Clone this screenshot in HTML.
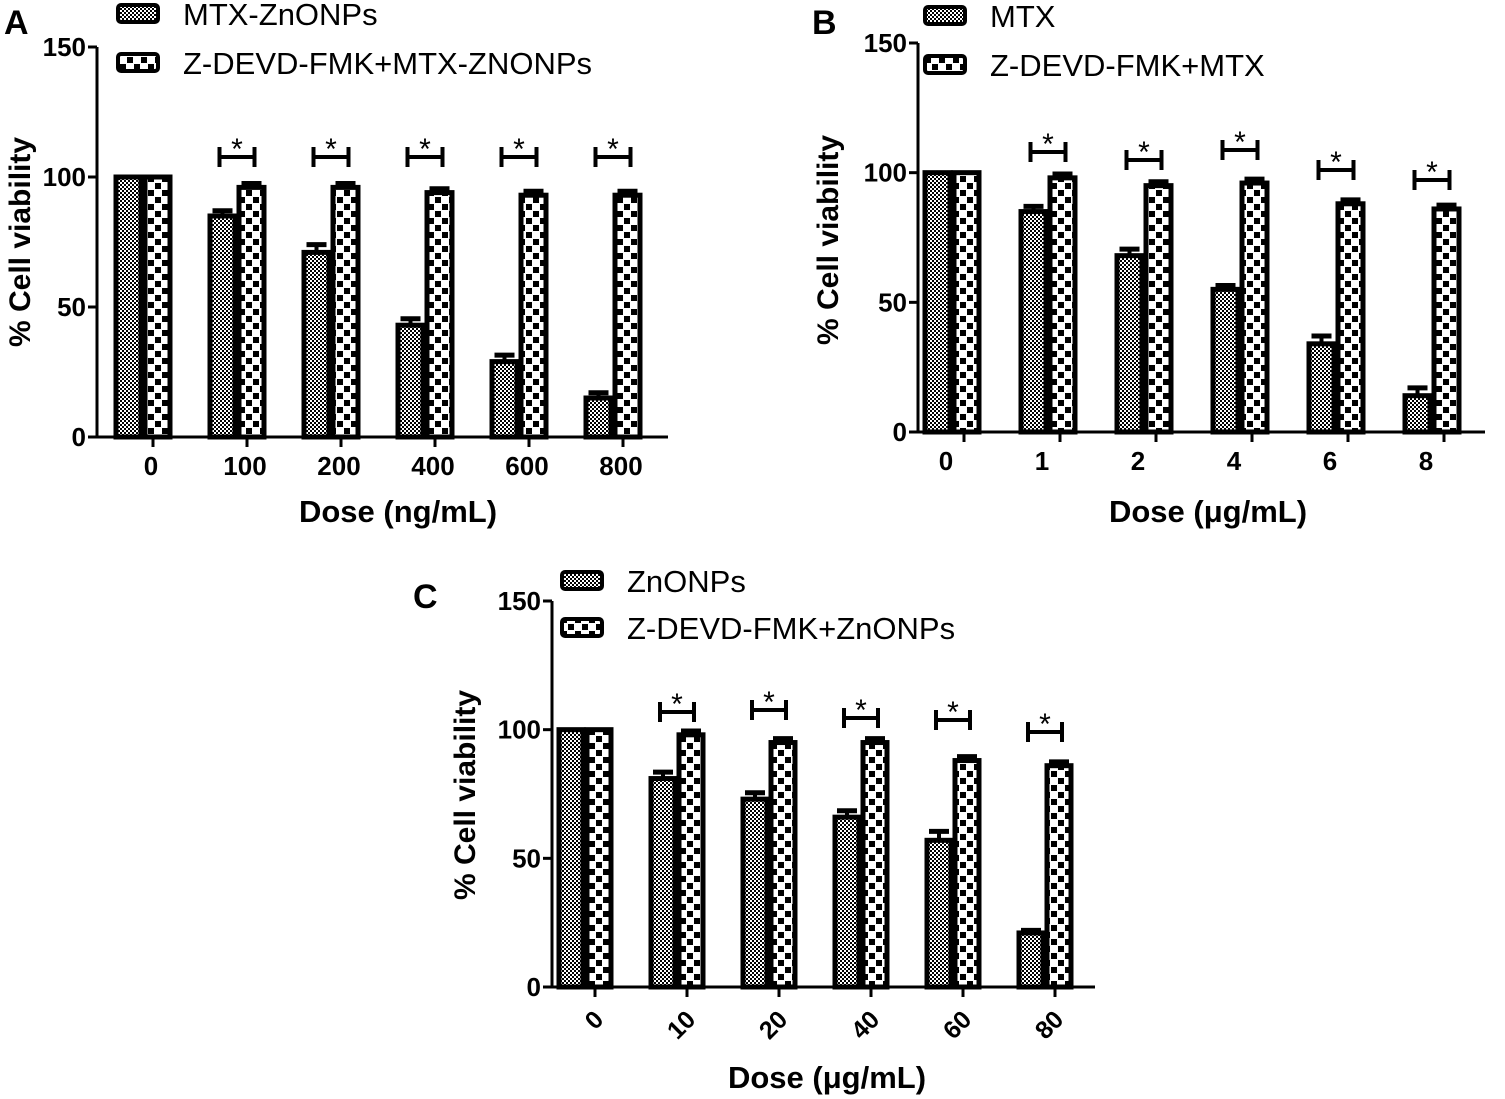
<!DOCTYPE html>
<html><head><meta charset="utf-8"><style>
body{margin:0;background:#fff;}
svg{display:block;font-family:"Liberation Sans",Arial,sans-serif;}
</style></head><body>
<svg id="s" width="1505" height="1099" viewBox="0 0 1505 1099" xmlns="http://www.w3.org/2000/svg">
<defs>
<pattern id="p1" width="4" height="4" patternUnits="userSpaceOnUse"><rect width="4" height="4" fill="#fff"/><rect width="2" height="2" fill="#000"/><rect x="2" y="2" width="2" height="2" fill="#000"/></pattern>
<pattern id="p2" width="14" height="14" patternUnits="userSpaceOnUse"><rect width="14" height="14" fill="#fff"/><rect x="1" y="1" width="6" height="6" fill="#000"/><rect x="8" y="8" width="6" height="6" fill="#000"/></pattern>
</defs>
<g id="g"></g>
</svg>
<script>
var g=document.getElementById('g');var h='';
function panel(o){
 var y=function(v){return o.y0-(o.y0-o.y150)*v/150;};
 h+='<line x1="'+o.ax+'" y1="'+o.y150+'" x2="'+o.ax+'" y2="'+(o.y0+1)+'" stroke="#000" stroke-width="3"/>';
 h+='<line x1="'+(o.ax-1)+'" y1="'+o.y0+'" x2="'+o.axEnd+'" y2="'+o.y0+'" stroke="#000" stroke-width="3"/>';
 [0,50,100,150].forEach(function(v){var yy=y(v);
  h+='<line x1="'+(o.ax-9)+'" y1="'+yy+'" x2="'+o.ax+'" y2="'+yy+'" stroke="#000" stroke-width="3"/>';
  h+='<text x="'+(o.ax-11)+'" y="'+(yy+9)+'" font-size="26" font-weight="bold" text-anchor="end">'+v+'</text>';});
 for(var i=0;i<6;i++){
  var c=o.c0+i*o.sp,w=o.bw;
  [[o.a[i],'p1',c-w],[o.b[i],'p2',c]].forEach(function(d,k){
   var top=y(d[0]);
   h+='<rect x="'+(d[2]+2)+'" y="'+top+'" width="'+(w-4)+'" height="'+(o.y0-top)+'" fill="url(#'+d[1]+')" stroke="#000" stroke-width="5"/>';
   if(i>0){var e=(k==0?o.ea[i]:1.5)*(o.y0-o.y150)/150;var xm=d[2]+w/2;
    h+='<line x1="'+xm+'" y1="'+(top-e)+'" x2="'+xm+'" y2="'+top+'" stroke="#000" stroke-width="4"/>';
    h+='<line x1="'+(xm-10)+'" y1="'+(top-e)+'" x2="'+(xm+10)+'" y2="'+(top-e)+'" stroke="#000" stroke-width="5"/>';}
  });
  var tx=c+o.toff;
  h+='<line x1="'+tx+'" y1="'+o.y0+'" x2="'+tx+'" y2="'+(o.y0+10)+'" stroke="#000" stroke-width="3"/>';
  if(o.rot){h+='<text transform="translate('+(tx+10)+','+(o.y0+34)+') rotate(-45)" font-size="25" font-weight="bold" text-anchor="end">'+o.lab[i]+'</text>';}
  else h+='<text x="'+(c+o.loff)+'" y="'+(o.y0+38)+'" font-size="26" font-weight="bold" text-anchor="middle">'+o.lab[i]+'</text>';
  if(i>0){var by=o.by[i],x1=c-w/2-3,x2=c+w/2+3;
   h+='<line x1="'+x1+'" y1="'+by+'" x2="'+x2+'" y2="'+by+'" stroke="#000" stroke-width="4"/>';
   h+='<line x1="'+x1+'" y1="'+(by-10)+'" x2="'+x1+'" y2="'+(by+10)+'" stroke="#000" stroke-width="4"/>';
   h+='<line x1="'+x2+'" y1="'+(by-10)+'" x2="'+x2+'" y2="'+(by+10)+'" stroke="#000" stroke-width="4"/>';
   h+='<text x="'+c+'" y="'+(by+2)+'" font-size="30" text-anchor="middle">*</text>';}
 }
 o.leg.forEach(function(t,k){var ly=o.ly+k*o.lsp;
  h+='<rect x="'+o.lx+'" y="'+ly+'" width="40" height="17" rx="3" fill="url(#'+(k?'p2':'p1')+')" stroke="#000" stroke-width="4"/>';
  h+='<text x="'+(o.lx+65)+'" y="'+(ly+20)+'" font-size="31">'+t+'</text>';});
 h+='<text transform="translate('+o.ytx+','+o.yty+') rotate(-90)" font-size="30" font-weight="bold" text-anchor="middle">% Cell viability</text>';
 h+='<text x="'+o.xtx+'" y="'+o.xty+'" font-size="31" font-weight="bold" text-anchor="middle">'+o.xt+'</text>';
 h+='<text x="'+o.px+'" y="'+o.py+'" font-size="34" font-weight="bold">'+o.pl+'</text>';
}
panel({ax:97,axEnd:668,y0:437,y150:47,c0:143,sp:94,bw:29,toff:10,loff:8,
 a:[100,85,71,43,29,15],b:[100,96,96,94,93,93],ea:[0,2,3,2.5,2.5,2],
 lab:['0','100','200','400','600','800'],by:[0,157,157,157,157,157],
 leg:['MTX-ZnONPs','Z-DEVD-FMK+MTX-ZNONPs'],lx:118,ly:5,lsp:49,
 ytx:30,yty:242,xtx:398,xty:522,xt:'Dose (ng/mL)',px:4,py:34,pl:'A'});
panel({ax:918,axEnd:1485,y0:432,y150:43,c0:952,sp:96,bw:29,toff:12,loff:-6,
 a:[100,85,68,55,34,14],b:[100,98,95,96,88,86],ea:[0,2,2.5,1.5,3,3],
 lab:['0','1','2','4','6','8'],by:[0,152,160,150,170,180],
 leg:['MTX','Z-DEVD-FMK+MTX'],lx:925,ly:7,lsp:49,
 ytx:838,yty:240,xtx:1208,xty:522,xt:'Dose (\u03bcg/mL)',px:812,py:34,pl:'B'});
panel({ax:552,axEnd:1095,y0:987,y150:601,c0:585,sp:92,bw:28,toff:10,loff:0,rot:1,
 a:[100,81,73,66,57,21],b:[100,98,95,95,88,86],ea:[0,2.5,2.5,2.5,3.5,1],
 lab:['0','10','20','40','60','80'],by:[0,712,710,718,720,732],
 leg:['ZnONPs','Z-DEVD-FMK+ZnONPs'],lx:562,ly:572,lsp:47,
 ytx:475,yty:795,xtx:827,xty:1088,xt:'Dose (\u03bcg/mL)',px:413,py:608,pl:'C'});
g.innerHTML=h;
</script>
</body></html>
